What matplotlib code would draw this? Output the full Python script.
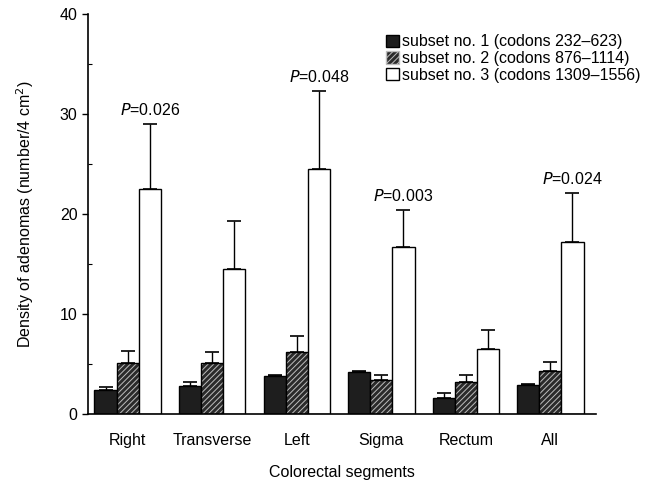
import numpy as np
import matplotlib
matplotlib.use("Agg")
import matplotlib.pyplot as plt
from matplotlib.patches import Patch

plt.rcParams['font.family'] = ['Liberation Sans', 'DejaVu Sans']
plt.rcParams['font.size'] = 11.5
plt.rcParams['hatch.linewidth'] = 0.7

segments = ["Right", "Transverse", "Left", "Sigma", "Rectum", "All"]
subset1 = [2.4, 2.8, 3.8, 4.2, 1.6, 2.9]
subset1_err = [0.3, 0.4, 0.1, 0.1, 0.5, 0.1]
subset2 = [5.1, 5.1, 6.2, 3.4, 3.2, 4.3]
subset2_err = [1.2, 1.1, 1.6, 0.5, 0.7, 0.9]
subset3 = [22.5, 14.5, 24.5, 16.7, 6.5, 17.2]
subset3_err = [6.5, 4.8, 7.8, 3.7, 1.9, 4.9]
p_labels = ["0.026", None, "0.048", "0.003", None, "0.024"]
legend_labels = ["subset no. 1 (codons 232\u2013623)",
                 "subset no. 2 (codons 876\u20131114)",
                 "subset no. 3 (codons 1309\u20131556)"]

fig = plt.figure(figsize=(6.6, 4.82), dpi=100)
ax = fig.add_axes([0.1333, 0.141, 0.7697, 0.830])

x = np.arange(len(segments))
w = 0.262
ekw = dict(ecolor='black', elinewidth=1.0, capsize=5, capthick=1.2)

ax.bar(x - w, subset1, w, color='#1e1e1e', edgecolor='black', linewidth=1.0)
ax.errorbar(x - w, subset1, yerr=[np.zeros(6), subset1_err], fmt='none', **ekw)

# hatched bars: dark fill with light diagonal lines, then black outline on top
ax.bar(x, subset2, w, color='#2a2a2a', edgecolor='#bdbdbd', hatch='//////', linewidth=0)
ax.bar(x, subset2, w, fill=False, edgecolor='black', linewidth=1.0)
ax.errorbar(x, subset2, yerr=[np.zeros(6), subset2_err], fmt='none', **ekw)

ax.bar(x + w, subset3, w, color='white', edgecolor='black', linewidth=1.0)
ax.errorbar(x + w, subset3, yerr=[np.zeros(6), subset3_err], fmt='none', **ekw)

for i, p in enumerate(p_labels):
    if p is None:
        continue
    top = subset3[i] + subset3_err[i]
    ax.text(x[i] + w, top + 0.6, r"$\it{P}$" + "=" + p, ha='center', va='bottom')

ax.set_xlim(-0.47, 5.54)
ax.set_ylim(0, 40)
ax.set_yticks([0, 10, 20, 30, 40])
ax.set_yticks([5, 15, 25, 35], minor=True)
ax.tick_params(axis='y', which='major', direction='out', length=4, width=1)
ax.tick_params(axis='y', which='minor', direction='in', length=3, width=0.8)
ax.set_xticks(x)
ax.set_xticklabels(segments)
ax.tick_params(axis='x', length=0, pad=14)
ax.spines['top'].set_visible(False)
ax.spines['right'].set_visible(False)
ax.spines['left'].set_linewidth(1.2)
ax.spines['bottom'].set_linewidth(1.2)

ax.set_ylabel("Density of adenomas (number/4 cm$^2$)", labelpad=17)
ax.set_xlabel("Colorectal segments", labelpad=12)

handles = [Patch(facecolor='#1e1e1e', edgecolor='black'),
           Patch(facecolor='#2a2a2a', edgecolor='#bdbdbd', hatch='//////'),
           Patch(facecolor='white', edgecolor='black')]
ax.legend(handles, legend_labels, loc='upper right', bbox_to_anchor=(1.10, 0.965),
          frameon=False, handlelength=0.8, handleheight=0.8, handletextpad=0.2,
          labelspacing=0.1, borderaxespad=0)

fig.savefig("out.png", dpi=100)
